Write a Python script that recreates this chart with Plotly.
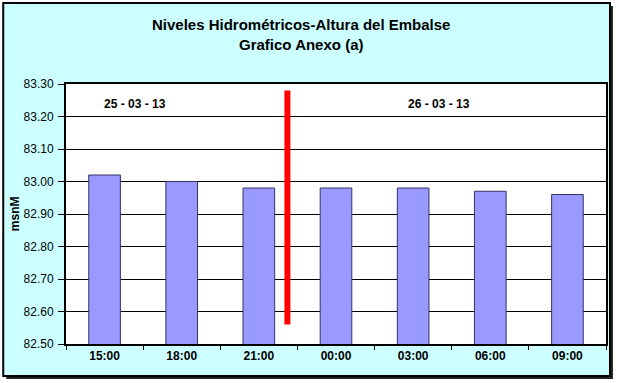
import plotly.graph_objects as go

categories = ["15:00", "18:00", "21:00", "00:00", "03:00", "06:00", "09:00"]
levels = [83.02, 83.00, 82.98, 82.98, 82.98, 82.97, 82.96]
y_ticks = [82.50, 82.60, 82.70, 82.80, 82.90, 83.00, 83.10, 83.20, 83.30]
date_labels = ["25 - 03 - 13", "26 - 03 - 13"]
date_label_x = [0.39, 4.33]
date_label_y = 83.24
divider_x = 2.37
divider_y = [82.56, 83.28]

W, H = 619, 383
ml, mr, mt, mb = 66, 11, 84, 39
pw, ph = W - ml - mr, H - mt - mb

def px_x(p):
    return (p - ml) / pw

def px_y(p):
    return 1 - (p - mt) / ph

FONT = "Liberation Sans, Arial, sans-serif"

fig = go.Figure()
fig.add_trace(go.Bar(
    x=categories, y=levels,
    marker=dict(color="#9999FF", line=dict(color="#333366", width=1)),
    width=0.41,
))

shapes = [
    dict(type="rect", xref="paper", yref="paper",
         x0=px_x(6), x1=px_x(615), y0=px_y(379), y1=px_y(6),
         fillcolor="#222222", line=dict(width=0), layer="below"),
    dict(type="rect", xref="paper", yref="paper",
         x0=px_x(3), x1=px_x(612), y0=px_y(376), y1=px_y(3),
         fillcolor="#CCFFFF", line=dict(color="black", width=2), layer="below"),
    dict(type="rect", xref="paper", yref="paper",
         x0=0, x1=1, y0=0, y1=1,
         fillcolor="white", line=dict(width=0), layer="below"),
    dict(type="line", xref="x", yref="y",
         x0=divider_x, x1=divider_x, y0=divider_y[0], y1=divider_y[1],
         line=dict(color="#FF0000", width=6), layer="above"),
]

annotations = [
    dict(text="<b>Niveles Hidrométricos-Altura del Embalse</b>", xref="paper", yref="paper",
         x=px_x(302), y=px_y(25), xanchor="center", yanchor="middle", showarrow=False,
         font=dict(family=FONT, size=15, color="black")),
    dict(text="<b>Grafico Anexo (a)</b>", xref="paper", yref="paper",
         x=px_x(302), y=px_y(44), xanchor="center", yanchor="middle", showarrow=False,
         font=dict(family=FONT, size=15, color="black")),
    dict(text="<b>msnM</b>", xref="paper", yref="paper", textangle=-90,
         x=px_x(15), y=px_y(214), xanchor="center", yanchor="middle", showarrow=False,
         font=dict(family=FONT, size=12, color="black")),
]
for lbl, xv in zip(date_labels, date_label_x):
    annotations.append(dict(text="<b>" + lbl + "</b>", xref="x", yref="y", x=xv, y=date_label_y,
                            xanchor="center", yanchor="middle",
                            showarrow=False, font=dict(family=FONT, size=12, color="black")))

fig.update_layout(
    width=W, height=H,
    margin=dict(l=ml, r=mr, t=mt, b=mb, pad=0),
    paper_bgcolor="white",
    plot_bgcolor="rgba(0,0,0,0)",
    showlegend=False,
    shapes=shapes,
    annotations=annotations,
)
fig.update_xaxes(
    type="category", showgrid=False,
    showline=True, linecolor="black", linewidth=2, mirror=True,
    ticks="outside", tickson="boundaries", ticklen=4, tickcolor="black",
    tickfont=dict(family=FONT, size=12, color="black", weight="bold"),
    range=[-0.5, 6.5],
)
fig.update_yaxes(
    range=[82.5, 83.3], tickvals=y_ticks, tickformat=".2f",
    showgrid=True, gridcolor="black", gridwidth=1,
    showline=True, linecolor="black", linewidth=2, mirror=True,
    ticks="outside", ticklen=6, tickcolor="black", ticklabelstandoff=2,
    tickfont=dict(family=FONT, size=12, color="black"),
    zeroline=False,
)

fig.write_html("out.html")
